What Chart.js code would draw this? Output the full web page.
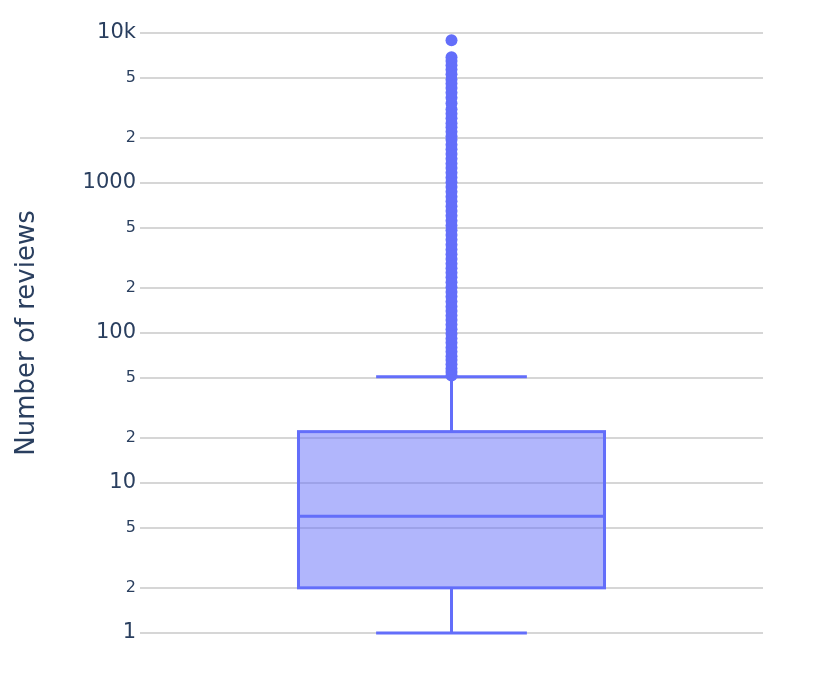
<!DOCTYPE html>
<html lang="en">
<head>
    <meta charset="UTF-8">
    <title>Number of reviews</title>
    <script src="https://cdn.jsdelivr.net/npm/chart.js"></script>
    <style>
        body {
            margin: 0;
            padding: 0;
            background: #ffffff;
        }
        #chart-container {
            width: 830px;
            height: 675px;
        }
    </style>
</head>
<body>
    <div id="chart-container">
        <canvas id="reviewsChart"></canvas>
    </div>
    <script>
        // box summary
        const lowerFence = 1;
        const q1 = 2;
        const median = 6;
        const q3 = 22;
        const upperFence = 51;

        // outliers above the upper fence
        const outliers = [
            52, 55, 58, 62, 66, 70, 75, 80, 86, 92, 99, 106, 114, 122, 131, 140,
            150, 162, 175, 188, 202, 218, 235, 252, 270, 290, 312, 335, 360, 388,
            418, 450, 485, 520, 560, 605, 650, 700, 755, 810, 875, 940, 1010, 1090,
            1170, 1260, 1350, 1450, 1560, 1680, 1800, 1940, 2050, 2200, 2350, 2500,
            2700, 2900, 3100, 3400, 3700, 4000, 4300, 4600, 4900, 5300, 5700,
            6100, 6500, 6900, 8950
        ];

        const tickValues = [1, 2, 5, 10, 20, 50, 100, 200, 500, 1000, 2000, 5000, 10000];
        const tickLabels = ['1', '2', '5', '10', '2', '5', '100', '2', '5', '1000', '2', '5', '10k'];
        const majorTicks = [1, 10, 100, 1000, 10000];

        const boxColor = '#636efa';
        const textColor = '#2a3f5f';
        const fontFamily = '"DejaVu Sans", Verdana, sans-serif';

        const boxPlugin = {
            id: 'boxPlugin',
            beforeDatasetsDraw(chart) {
                const ctx = chart.ctx;
                const x = chart.scales.x;
                const y = chart.scales.y;
                const left = x.getPixelForValue(-0.2456);
                const right = x.getPixelForValue(0.2456);
                const capL = x.getPixelForValue(-0.121);
                const capR = x.getPixelForValue(0.121);
                const cx = x.getPixelForValue(0);
                const yQ1 = y.getPixelForValue(q1);
                const yQ3 = y.getPixelForValue(q3);
                const yMed = y.getPixelForValue(median);
                const yLo = y.getPixelForValue(lowerFence);
                const yHi = y.getPixelForValue(upperFence);

                ctx.save();
                ctx.fillStyle = 'rgba(99,110,250,0.5)';
                ctx.fillRect(left, yQ3, right - left, yQ1 - yQ3);
                ctx.strokeStyle = boxColor;
                ctx.lineWidth = 3;
                ctx.strokeRect(left, yQ3, right - left, yQ1 - yQ3);

                ctx.beginPath();
                ctx.moveTo(left, yMed); ctx.lineTo(right, yMed);
                ctx.moveTo(cx, yQ3); ctx.lineTo(cx, yHi);
                ctx.moveTo(capL, yHi); ctx.lineTo(capR, yHi);
                ctx.moveTo(cx, yQ1); ctx.lineTo(cx, yLo);
                ctx.moveTo(capL, yLo); ctx.lineTo(capR, yLo);
                ctx.stroke();
                ctx.restore();
            }
        };

        const chart = new Chart(document.getElementById('reviewsChart'), {
            type: 'scatter',
            data: {
                datasets: [{
                    label: 'Number of reviews',
                    data: outliers.map(v => ({ x: 0, y: v })),
                    backgroundColor: boxColor,
                    borderColor: boxColor,
                    borderWidth: 0,
                    pointRadius: 6,
                    pointHoverRadius: 6,
                    clip: false
                }]
            },
            options: {
                responsive: true,
                maintainAspectRatio: false,
                animation: false,
                layout: {
                    padding: { left: 0, right: 67, top: 33, bottom: 42 }
                },
                plugins: {
                    legend: { display: false },
                    tooltip: { enabled: false }
                },
                scales: {
                    x: {
                        type: 'linear',
                        min: -0.5,
                        max: 0.5,
                        display: false
                    },
                    y: {
                        type: 'logarithmic',
                        min: 1,
                        max: 10000,
                        afterBuildTicks: scale => {
                            scale.ticks = tickValues.map(v => ({ value: v }));
                        },
                        afterFit: scale => {
                            scale.width = 140;
                        },
                        border: { display: false },
                        grid: {
                            color: '#d6d6d6',
                            lineWidth: 2,
                            drawTicks: false
                        },
                        ticks: {
                            padding: 4,
                            color: textColor,
                            autoSkip: false,
                            callback: (value, index) => tickLabels[index],
                            font: ctx => ({
                                family: fontFamily,
                                size: majorTicks.includes(ctx.tick && ctx.tick.value) ? 21 : 16
                            })
                        },
                        title: {
                            display: true,
                            text: 'Number of reviews',
                            color: textColor,
                            padding: { top: 12, bottom: 0 },
                            font: { family: fontFamily, size: 26 }
                        }
                    }
                }
            },
            plugins: [boxPlugin]
        });
    </script>
</body>
</html>
